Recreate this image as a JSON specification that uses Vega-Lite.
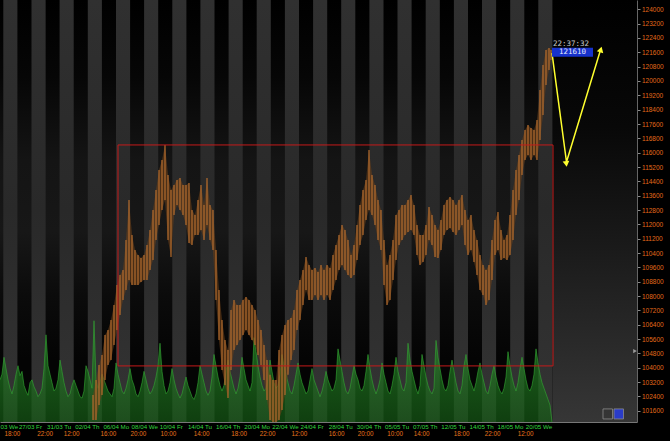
{
"$schema": "https://vega.github.io/schema/vega-lite/v6.json",
"width": 637, "height": 422,
"autosize": "none",
"padding": {"left": 0, "top": 0, "right": 33, "bottom": 19},
"background": "#000000",
"config": {"view": {"stroke": null}, "axis": {"grid": false}},
"datasets": {
"stripes": [{"x1":3.3,"x2":17.4},{"x1":31.5,"x2":45.6},{"x1":59.6,"x2":73.7},{"x1":87.8,"x2":101.9},{"x1":116.0,"x2":130.1},{"x1":144.1,"x2":158.2},{"x1":172.3,"x2":186.4},{"x1":200.4,"x2":214.5},{"x1":228.6,"x2":242.7},{"x1":256.7,"x2":270.8},{"x1":284.9,"x2":299.0},{"x1":313.1,"x2":327.2},{"x1":341.2,"x2":355.3},{"x1":369.4,"x2":383.5},{"x1":397.5,"x2":411.6},{"x1":425.7,"x2":439.8},{"x1":453.9,"x2":468.0},{"x1":482.0,"x2":496.1},{"x1":510.2,"x2":524.3},{"x1":538.3,"x2":552.4}],
"vol": [{"b":0,"v":30},{"b":2,"v":34},
{"b":4,"v":46},{"b":6,"v":38},{"b":8,"v":30},{"b":10,"v":24},{"b":12,"v":20},{"b":14,"v":26},{"b":16,"v":34},
{"b":18,"v":40},{"b":20,"v":33},{"b":22,"v":36},{"b":24,"v":26},{"b":26,"v":22},{"b":28,"v":19},{"b":30,"v":28},
{"b":32,"v":30},{"b":34,"v":25},{"b":36,"v":22},{"b":38,"v":18},{"b":40,"v":20},{"b":42,"v":24},{"b":44,"v":38},
{"b":46,"v":62},{"b":48,"v":40},{"b":50,"v":34},{"b":52,"v":28},{"b":54,"v":22},{"b":56,"v":24},{"b":58,"v":30},
{"b":60,"v":44},{"b":62,"v":36},{"b":64,"v":28},{"b":66,"v":22},{"b":68,"v":18},{"b":70,"v":20},{"b":72,"v":26},
{"b":74,"v":30},{"b":76,"v":26},{"b":78,"v":22},{"b":80,"v":18},{"b":82,"v":17},{"b":84,"v":22},{"b":86,"v":40},
{"b":88,"v":36},{"b":90,"v":30},{"b":92,"v":24},{"b":94,"v":72},{"b":96,"v":30},{"b":98,"v":24},{"b":100,"v":28},
{"b":102,"v":34},{"b":104,"v":30},{"b":106,"v":26},{"b":108,"v":22},{"b":110,"v":20},{"b":112,"v":18},{"b":114,"v":24},
{"b":116,"v":42},{"b":118,"v":34},{"b":120,"v":28},{"b":122,"v":22},{"b":124,"v":20},{"b":126,"v":24},{"b":128,"v":30},
{"b":130,"v":38},{"b":132,"v":30},{"b":134,"v":26},{"b":136,"v":20},{"b":138,"v":18},{"b":140,"v":22},{"b":142,"v":28},
{"b":144,"v":36},{"b":146,"v":30},{"b":148,"v":24},{"b":150,"v":20},{"b":152,"v":22},{"b":154,"v":26},{"b":156,"v":32},
{"b":158,"v":40},{"b":160,"v":56},{"b":162,"v":36},{"b":164,"v":26},{"b":166,"v":20},{"b":168,"v":22},{"b":170,"v":28},
{"b":172,"v":38},{"b":174,"v":30},{"b":176,"v":24},{"b":178,"v":20},{"b":180,"v":17},{"b":182,"v":20},{"b":184,"v":26},
{"b":186,"v":32},{"b":188,"v":26},{"b":190,"v":22},{"b":192,"v":18},{"b":194,"v":16},{"b":196,"v":20},{"b":198,"v":28},
{"b":200,"v":40},{"b":202,"v":34},{"b":204,"v":28},{"b":206,"v":22},{"b":208,"v":19},{"b":210,"v":22},{"b":212,"v":32},
{"b":214,"v":48},{"b":216,"v":40},{"b":218,"v":32},{"b":220,"v":26},{"b":222,"v":22},{"b":224,"v":26},{"b":226,"v":36},
{"b":228,"v":44},{"b":230,"v":36},{"b":232,"v":30},{"b":234,"v":24},{"b":236,"v":20},{"b":238,"v":24},{"b":240,"v":32},
{"b":242,"v":46},{"b":244,"v":38},{"b":246,"v":30},{"b":248,"v":26},{"b":250,"v":22},{"b":252,"v":28},{"b":254,"v":60},
{"b":256,"v":50},{"b":258,"v":40},{"b":260,"v":32},{"b":262,"v":26},{"b":264,"v":22},{"b":266,"v":24},{"b":268,"v":30},
{"b":270,"v":44},{"b":272,"v":36},{"b":274,"v":28},{"b":276,"v":24},{"b":278,"v":26},{"b":280,"v":34},{"b":282,"v":48},
{"b":284,"v":40},{"b":286,"v":34},{"b":288,"v":28},{"b":290,"v":22},{"b":292,"v":20},{"b":294,"v":26},{"b":296,"v":34},
{"b":298,"v":42},{"b":300,"v":34},{"b":302,"v":28},{"b":304,"v":24},{"b":306,"v":20},{"b":308,"v":22},{"b":310,"v":30},
{"b":312,"v":38},{"b":314,"v":30},{"b":316,"v":26},{"b":318,"v":22},{"b":320,"v":18},{"b":322,"v":22},{"b":324,"v":28},
{"b":326,"v":36},{"b":328,"v":30},{"b":330,"v":26},{"b":332,"v":22},{"b":334,"v":24},{"b":336,"v":30},{"b":338,"v":52},
{"b":340,"v":44},{"b":342,"v":36},{"b":344,"v":28},{"b":346,"v":22},{"b":348,"v":20},{"b":350,"v":24},{"b":352,"v":32},
{"b":354,"v":40},{"b":356,"v":34},{"b":358,"v":30},{"b":360,"v":24},{"b":362,"v":22},{"b":364,"v":26},{"b":366,"v":36},
{"b":368,"v":48},{"b":370,"v":38},{"b":372,"v":30},{"b":374,"v":24},{"b":376,"v":20},{"b":378,"v":24},{"b":380,"v":30},
{"b":382,"v":42},{"b":384,"v":34},{"b":386,"v":28},{"b":388,"v":22},{"b":390,"v":20},{"b":392,"v":26},{"b":394,"v":34},
{"b":396,"v":46},{"b":398,"v":36},{"b":400,"v":30},{"b":402,"v":24},{"b":404,"v":22},{"b":406,"v":28},{"b":408,"v":56},
{"b":410,"v":44},{"b":412,"v":36},{"b":414,"v":30},{"b":416,"v":24},{"b":418,"v":20},{"b":420,"v":26},{"b":422,"v":48},
{"b":424,"v":40},{"b":426,"v":32},{"b":428,"v":26},{"b":430,"v":22},{"b":432,"v":20},{"b":434,"v":24},{"b":436,"v":58},
{"b":438,"v":46},{"b":440,"v":38},{"b":442,"v":30},{"b":444,"v":24},{"b":446,"v":22},{"b":448,"v":26},{"b":450,"v":36},
{"b":452,"v":44},{"b":454,"v":36},{"b":456,"v":28},{"b":458,"v":22},{"b":460,"v":20},{"b":462,"v":26},{"b":464,"v":40},
{"b":466,"v":48},{"b":468,"v":38},{"b":470,"v":30},{"b":472,"v":26},{"b":474,"v":22},{"b":476,"v":28},{"b":478,"v":36},
{"b":480,"v":42},{"b":482,"v":34},{"b":484,"v":28},{"b":486,"v":22},{"b":488,"v":20},{"b":490,"v":26},{"b":492,"v":34},
{"b":494,"v":40},{"b":496,"v":32},{"b":498,"v":26},{"b":500,"v":22},{"b":502,"v":20},{"b":504,"v":24},{"b":506,"v":32},
{"b":508,"v":50},{"b":510,"v":40},{"b":512,"v":32},{"b":514,"v":26},{"b":516,"v":22},{"b":518,"v":28},{"b":520,"v":38},
{"b":522,"v":46},{"b":524,"v":38},{"b":526,"v":30},{"b":528,"v":24},{"b":530,"v":22},{"b":532,"v":26},{"b":534,"v":34},
{"b":536,"v":52},{"b":538,"v":42},{"b":540,"v":34},{"b":542,"v":28},{"b":544,"v":24},{"b":546,"v":20},{"b":548,"v":16},
{"b":550,"v":12},{"b":552,"v":0}],
"price": [{"b":93,"h":102480,"l":101080},{"b":96,"h":103320,"l":101080},{"b":99,"h":104150,"l":101920},{"b":102,"h":104710,"l":102480},{"b":105,"h":105830,"l":103320},{"b":108,"h":106110,"l":104150},{"b":111,"h":106660,"l":104430},{"b":114,"h":107500,"l":105270},{"b":117,"h":108620,"l":106110},{"b":120,"h":109180,"l":106940},{"b":123,"h":109450,"l":107780},{"b":126,"h":111130,"l":108340},{"b":129,"h":113360,"l":108900},{"b":132,"h":111410,"l":108620},{"b":135,"h":110570,"l":108620},{"b":138,"h":110290,"l":108620},{"b":141,"h":110120,"l":108780},{"b":144,"h":110290,"l":108900},{"b":147,"h":110850,"l":108900},{"b":150,"h":111690,"l":109450},{"b":153,"h":112800,"l":110010},{"b":156,"h":113920,"l":111130},{"b":159,"h":115030,"l":111970},{"b":162,"h":115590,"l":112800},{"b":165,"h":116430,"l":113360},{"b":168,"h":114760,"l":111130},{"b":171,"h":113920,"l":110180},{"b":174,"h":114200,"l":112520},{"b":177,"h":114480,"l":113080},{"b":180,"h":114590,"l":112800},{"b":183,"h":114200,"l":112520},{"b":186,"h":114200,"l":111970},{"b":189,"h":114310,"l":110960},{"b":192,"h":112800,"l":110850},{"b":195,"h":112520,"l":111410},{"b":198,"h":113360,"l":111410},{"b":201,"h":114200,"l":111690},{"b":204,"h":113080,"l":111130},{"b":207,"h":114590,"l":111970},{"b":210,"h":113080,"l":111130},{"b":213,"h":112800,"l":110570},{"b":216,"h":110570,"l":107780},{"b":219,"h":108340,"l":105550},{"b":222,"h":106660,"l":103870},{"b":225,"h":105550,"l":103040},{"b":228,"h":104990,"l":102310},{"b":231,"h":107220,"l":103870},{"b":234,"h":107780,"l":104990},{"b":237,"h":107500,"l":105270},{"b":240,"h":107500,"l":105550},{"b":243,"h":107780,"l":105830},{"b":246,"h":107950,"l":106110},{"b":249,"h":107780,"l":105830},{"b":252,"h":107500,"l":105550},{"b":255,"h":107220,"l":105270},{"b":258,"h":106660,"l":104710},{"b":261,"h":106110,"l":104150},{"b":264,"h":105270,"l":103320},{"b":267,"h":104430,"l":102200},{"b":270,"h":103600,"l":101080},{"b":273,"h":103320,"l":100970},{"b":276,"h":103320,"l":100970},{"b":279,"h":104990,"l":101080},{"b":282,"h":105830,"l":101640},{"b":285,"h":106390,"l":102480},{"b":288,"h":106660,"l":103600},{"b":291,"h":106780,"l":104430},{"b":294,"h":107220,"l":104990},{"b":297,"h":108340,"l":106110},{"b":300,"h":108900,"l":106660},{"b":303,"h":109450,"l":107500},{"b":306,"h":110180,"l":108340},{"b":309,"h":109730,"l":107780},{"b":312,"h":109450,"l":107780},{"b":315,"h":109570,"l":108060},{"b":318,"h":109340,"l":107780},{"b":321,"h":109730,"l":108060},{"b":324,"h":109450,"l":107780},{"b":327,"h":109730,"l":108060},{"b":330,"h":109570,"l":107780},{"b":333,"h":110290,"l":108340},{"b":336,"h":110850,"l":108900},{"b":339,"h":111410,"l":109450},{"b":342,"h":111970,"l":109730},{"b":345,"h":111690,"l":109450},{"b":348,"h":111130,"l":109180},{"b":351,"h":110290,"l":109010},{"b":354,"h":110850,"l":109180},{"b":357,"h":111970,"l":110010},{"b":360,"h":113080,"l":110850},{"b":363,"h":113920,"l":111410},{"b":366,"h":114480,"l":112240},{"b":369,"h":116150,"l":112800},{"b":372,"h":114760,"l":112520},{"b":375,"h":114200,"l":111970},{"b":378,"h":113360,"l":111130},{"b":381,"h":112800,"l":110570},{"b":384,"h":111130,"l":108620},{"b":387,"h":109730,"l":107500},{"b":390,"h":110290,"l":107780},{"b":393,"h":111130,"l":108900},{"b":396,"h":112520,"l":110010},{"b":399,"h":112800,"l":110850},{"b":402,"h":113080,"l":111130},{"b":405,"h":113080,"l":111410},{"b":408,"h":113360,"l":111570},{"b":411,"h":113640,"l":111690},{"b":414,"h":113080,"l":111410},{"b":417,"h":111970,"l":110290},{"b":420,"h":111410,"l":109730},{"b":423,"h":111410,"l":109900},{"b":426,"h":111970,"l":110290},{"b":429,"h":112970,"l":111130},{"b":432,"h":112520,"l":110850},{"b":435,"h":111970,"l":110180},{"b":438,"h":111690,"l":110120},{"b":441,"h":112240,"l":110570},{"b":444,"h":113080,"l":111410},{"b":447,"h":113360,"l":111690},{"b":450,"h":113530,"l":111800},{"b":453,"h":113360,"l":111570},{"b":456,"h":113080,"l":111410},{"b":459,"h":113360,"l":111690},{"b":462,"h":113640,"l":111970},{"b":465,"h":112800,"l":110850},{"b":468,"h":112240,"l":110290},{"b":471,"h":112520,"l":110570},{"b":474,"h":111690,"l":109900},{"b":477,"h":111130,"l":109180},{"b":480,"h":110290,"l":108340},{"b":483,"h":109730,"l":108060},{"b":486,"h":109450,"l":107500},{"b":489,"h":109730,"l":107780},{"b":492,"h":111130,"l":108900},{"b":495,"h":112240,"l":110290},{"b":498,"h":112690,"l":110570},{"b":501,"h":111690,"l":110010},{"b":504,"h":111130,"l":110120},{"b":507,"h":111410,"l":110010},{"b":510,"h":112520,"l":110290},{"b":513,"h":113920,"l":111130},{"b":516,"h":115030,"l":112520},{"b":519,"h":115870,"l":113360},{"b":522,"h":116710,"l":114760},{"b":525,"h":117270,"l":115590},{"b":528,"h":117550,"l":115870},{"b":531,"h":117380,"l":115590},{"b":534,"h":117270,"l":115870},{"b":537,"h":117820,"l":115590},{"b":540,"h":119500,"l":116710},{"b":543,"h":120890,"l":118100},{"b":546,"h":121730,"l":119780},{"b":549,"h":121840,"l":120610},{"b":551,"h":121730,"l":121170}]
},
"layer": [
{
"data": {"values": [{"x1": 0, "x2": 552.4}]},
"mark": {"type": "rect", "fill": {"gradient": "linear", "x1": 0, "y1": 0, "x2": 0, "y2": 1, "stops": [{"offset": 0, "color": "#000000"}, {"offset": 0.18, "color": "#060606"}, {"offset": 0.38, "color": "#141414"}, {"offset": 0.55, "color": "#171717"}, {"offset": 0.7, "color": "#0b0b0b"}, {"offset": 0.85, "color": "#040404"}, {"offset": 1, "color": "#040404"}]}},
"encoding": {
"x": {"field": "x1", "type": "quantitative", "scale": {"domain": [0, 637], "nice": false, "zero": false},
"axis": {"orient": "bottom", "title": null, "values": [0, 18.4, 46.6, 74.7, 102.9, 131.1, 159.2, 187.4, 215.5, 243.7, 271.8, 300, 328.2, 356.3, 384.5, 412.6, 440.8, 469, 497.1, 525.3],
"labelExpr": "['03 We','27/03 Fr','31/03 Tu','02/04 Th','06/04 Mo','08/04 We','10/04 Fr','14/04 Tu','16/04 Th','20/04 Mo','22/04 We','24/04 Fr','28/04 Tu','30/04 Th','05/05 Tu','07/05 Th','12/05 Tu','14/05 Th','18/05 Mo','20/05 We'][indexof([0, 18.4, 46.6, 74.7, 102.9, 131.1, 159.2, 187.4, 215.5, 243.7, 271.8, 300, 328.2, 356.3, 384.5, 412.6, 440.8, 469, 497.1, 525.3], datum.value)]",
"labelAlign": "left", "labelBaseline": "top", "labelPadding": 1, "labelColor": "#33d63f", "labelFont": "Liberation Sans", "labelFontSize": 6.2, "ticks": false, "domain": true, "domainColor": "#777777", "domainWidth": 1, "grid": false, "labelOverlap": false, "labelFlush": false, "labelBound": false}},
"x2": {"field": "x2"}
}
},
{
"data": {"values": [{"x1": 552.4, "x2": 637}]},
"mark": {"type": "rect", "fill": {"gradient": "linear", "x1": 0, "y1": 0, "x2": 0, "y2": 1, "stops": [{"offset": 0, "color": "#000000"}, {"offset": 0.3, "color": "#080808"}, {"offset": 0.6, "color": "#1b1b1b"}, {"offset": 1, "color": "#363636"}]}},
"encoding": {"x": {"field": "x1", "type": "quantitative", "scale": {"domain": [0, 637], "nice": false, "zero": false}, "axis": null}, "x2": {"field": "x2"}}
},
{
"data": {"name": "stripes"},
"mark": {"type": "rect", "fill": {"gradient": "linear", "x1": 0, "y1": 0, "x2": 0, "y2": 1, "stops": [{"offset": 0, "color": "#303030"}, {"offset": 0.5, "color": "#292929"}, {"offset": 1, "color": "#343434"}]}},
"encoding": {"x": {"field": "x1", "type": "quantitative", "scale": {"domain": [0, 637], "nice": false, "zero": false}, "axis": null}, "x2": {"field": "x2"}}
},
{
"data": {"name": "vol"},
"mark": {"type": "area", "interpolate": "linear", "fill": {"gradient": "linear", "x1": 0, "y1": 0, "x2": 0, "y2": 1, "stops": [{"offset": 0, "color": "#2c922c"}, {"offset": 1, "color": "#145814"}]}, "line": {"color": "#33a833", "strokeWidth": 0.6}},
"encoding": {
"x": {"field": "b", "type": "quantitative", "scale": {"domain": [0, 637], "nice": false, "zero": false},
"axis": {"orient": "bottom", "title": null, "values": [4, 36.7, 63.3, 100, 130, 160, 193.3, 230.7, 259.3, 291, 328.3, 357.3, 386.7, 413.3, 453.3, 484.3, 517.3],
"labelExpr": "['18:00','22:00','12:00','16:00','20:00','10:00','14:00','18:00','22:00','12:00','16:00','20:00','10:00','14:00','18:00','22:00','12:00'][indexof([4, 36.7, 63.3, 100, 130, 160, 193.3, 230.7, 259.3, 291, 328.3, 357.3, 386.7, 413.3, 453.3, 484.3, 517.3], datum.value)]",
"labelAlign": "left", "labelBaseline": "top", "labelPadding": 8, "labelColor": "#e8741c", "labelFont": "Liberation Sans", "labelFontSize": 6.3, "ticks": false, "domain": false, "grid": false, "labelOverlap": false, "labelFlush": false, "labelBound": false}},
"y": {"field": "v", "type": "quantitative", "scale": {"domain": [0, 300], "nice": false, "zero": true}, "axis": null}
}
},
{
"data": {"name": "price"},
"mark": {"type": "area", "interpolate": "linear", "color": "#6e4119", "opacity": 0.6},
"encoding": {
"x": {"field": "b", "type": "quantitative", "scale": {"domain": [0, 637], "nice": false, "zero": false}, "axis": null},
"y": {"field": "h", "type": "quantitative", "scale": {"domain": [100970, 124520], "nice": false, "zero": false}, "axis": null},
"y2": {"field": "l"}
}
},
{
"data": {"name": "price"},
"mark": {"type": "rule", "color": "#b87030", "strokeWidth": 1.2, "opacity": 0.95},
"encoding": {
"x": {"field": "b", "type": "quantitative", "scale": {"domain": [0, 637], "nice": false, "zero": false}, "axis": null},
"y": {"field": "h", "type": "quantitative", "scale": {"domain": [100970, 124520], "nice": false, "zero": false},
"axis": {"orient": "right", "title": null, "values": [101600,102400,103200,104000,104800,105600,106400,107200,108000,108800,109600,110400,111200,112000,112800,113600,114400,115200,116000,116800,117600,118400,119200,120000,120800,121600,122400,123200,124000], "format": "d", "labelColor": "#e06a1a", "labelFont": "Liberation Sans", "labelFontSize": 6.5, "labelPadding": 1.5, "tickSize": 3, "tickColor": "#8a8a8a", "domainColor": "#666666", "grid": false, "labelOverlap": false, "labelBound": false, "labelFlush": false}},
"y2": {"field": "l"}
}
},
{
"data": {"values": [{"x1": 118, "x2": 553, "p1": 116430, "p2": 104100}]},
"mark": {"type": "rect", "fill": "transparent", "stroke": "#c41a1a", "strokeWidth": 1},
"encoding": {
"x": {"field": "x1", "type": "quantitative", "scale": {"domain": [0, 637], "nice": false, "zero": false}, "axis": null},
"x2": {"field": "x2"},
"y": {"field": "p1", "type": "quantitative", "scale": {"domain": [100970, 124520], "nice": false, "zero": false}, "axis": null},
"y2": {"field": "p2"}
}
},
{
"data": {"values": [{"b": 552, "p": 121560, "o": 1}, {"b": 566.5, "p": 115480, "o": 2}, {"b": 600.8, "p": 121790, "o": 3}]},
"mark": {"type": "line", "color": "#ffff2e", "strokeWidth": 1.5},
"encoding": {
"x": {"field": "b", "type": "quantitative", "scale": {"domain": [0, 637], "nice": false, "zero": false}, "axis": null},
"y": {"field": "p", "type": "quantitative", "scale": {"domain": [100970, 124520], "nice": false, "zero": false}, "axis": null},
"order": {"field": "o"}
}
},
{
"data": {"values": [{"b": 566.3, "p": 115370}]},
"mark": {"type": "point", "shape": "triangle-down", "filled": true, "color": "#ffff2e", "size": 45, "angle": -7, "opacity": 1},
"encoding": {
"x": {"field": "b", "type": "quantitative", "scale": {"domain": [0, 637], "nice": false, "zero": false}, "axis": null},
"y": {"field": "p", "type": "quantitative", "scale": {"domain": [100970, 124520], "nice": false, "zero": false}, "axis": null}
}
},
{
"data": {"values": [{"b": 600.8, "p": 121760}]},
"mark": {"type": "point", "shape": "triangle-up", "filled": true, "color": "#ffff2e", "size": 45, "angle": 16, "opacity": 1},
"encoding": {
"x": {"field": "b", "type": "quantitative", "scale": {"domain": [0, 637], "nice": false, "zero": false}, "axis": null},
"y": {"field": "p", "type": "quantitative", "scale": {"domain": [100970, 124520], "nice": false, "zero": false}, "axis": null}
}
},
{
"data": {"values": [{"x1": 552, "x2": 593, "p1": 121850, "p2": 121360}]},
"mark": {"type": "rect", "fill": "#1632cc"},
"encoding": {
"x": {"field": "x1", "type": "quantitative", "scale": {"domain": [0, 637], "nice": false, "zero": false}, "axis": null},
"x2": {"field": "x2"},
"y": {"field": "p1", "type": "quantitative", "scale": {"domain": [100970, 124520], "nice": false, "zero": false}, "axis": null},
"y2": {"field": "p2"}
}
},
{
"data": {"values": [{"b": 572.5, "p": 121610, "t": "121610"}, {"b": 571, "p": 122070, "t": "22:37:32"}]},
"mark": {"type": "text", "font": "DejaVu Sans Mono", "fontSize": 7.5, "align": "center", "baseline": "middle"},
"encoding": {
"x": {"field": "b", "type": "quantitative", "scale": {"domain": [0, 637], "nice": false, "zero": false}, "axis": null},
"y": {"field": "p", "type": "quantitative", "scale": {"domain": [100970, 124520], "nice": false, "zero": false}, "axis": null},
"text": {"field": "t"},
"color": {"field": "t", "type": "nominal", "scale": {"domain": ["121610", "22:37:32"], "range": ["#e8ecff", "#c8c8c8"]}, "legend": null}
}
},
{
"data": {"values": [{"x1": 603, "x2": 612.5, "p1": 101700, "p2": 101140}, {"x1": 614, "x2": 623.5, "p1": 101700, "p2": 101140}]},
"mark": {"type": "rect", "fill": "transparent", "stroke": "#8a8a8a", "strokeWidth": 0.8},
"encoding": {
"x": {"field": "x1", "type": "quantitative", "scale": {"domain": [0, 637], "nice": false, "zero": false}, "axis": null},
"x2": {"field": "x2"},
"y": {"field": "p1", "type": "quantitative", "scale": {"domain": [100970, 124520], "nice": false, "zero": false}, "axis": null},
"y2": {"field": "p2"},
"fill": {"field": "x1", "type": "nominal", "scale": {"domain": [603, 614], "range": ["transparent", "#2a3cc8"]}, "legend": null}
}
},
{
"data": {"values": [{"b": 635, "p": 104930}]},
"mark": {"type": "point", "shape": "triangle-right", "filled": true, "color": "#9a9a9a", "size": 18, "opacity": 1},
"encoding": {
"x": {"field": "b", "type": "quantitative", "scale": {"domain": [0, 637], "nice": false, "zero": false}, "axis": null},
"y": {"field": "p", "type": "quantitative", "scale": {"domain": [100970, 124520], "nice": false, "zero": false}, "axis": null}
}
}
],
"resolve": {"scale": {"y": "independent", "color": "independent", "fill": "independent"}, "axis": {"x": "independent", "y": "independent"}}
}
